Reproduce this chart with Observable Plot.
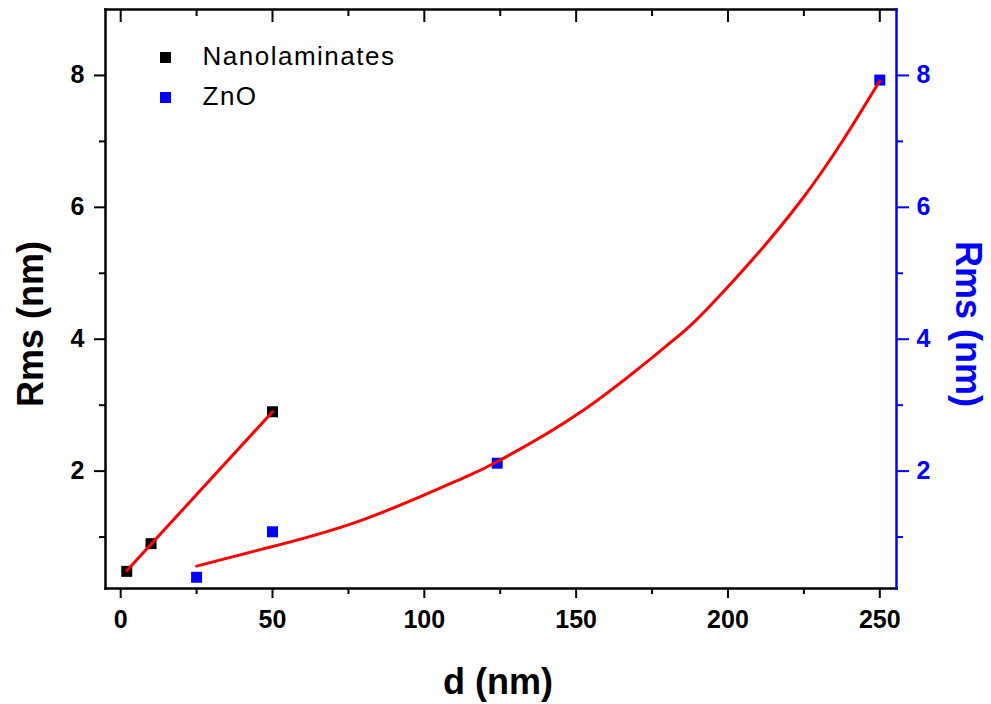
<!DOCTYPE html>
<html>
<head>
<meta charset="utf-8">
<script src="https://cdn.jsdelivr.net/npm/d3@7"></script>
<script src="https://cdn.jsdelivr.net/npm/@observablehq/plot@0.6"></script>
<style>
  body { margin: 0; background: #fff; }
  svg { display: block; }
</style>
</head>
<body>
<div id="chart"></div>
<script>
// Data
const nanoD = [2, 10, 50];
const nanoRms = [0.48, 0.9, 2.9];
const znoD = [25, 50, 124, 250];
const znoRms = [0.39, 1.08, 2.12, 7.93];
const nanoFitD = [2, 50];
const nanoFitRms = [0.49, 2.9];
const znoFitD = [25, 46, 79, 112, 123, 151, 180, 195, 224, 250];
const znoFitRms = [0.56, 0.81, 1.25, 1.88, 2.12, 2.88, 3.91, 4.55, 6.1, 7.92];

const xTicks = [0, 50, 100, 150, 200, 250];
const xMinor = [25, 75, 125, 175, 225];
const yTicks = [2, 4, 6, 8];
const yMinor = [1, 3, 5, 7];

const legendLabels = ["Nanolaminates", "ZnO"];
const seriesColors = ["#000000", "#0000ff"];
const fitColor = "#ff0000";
const xTitle = "d (nm)";
const yTitle = "Rms (nm)";

const nano = nanoD.map((d, i) => ({d, rms: nanoRms[i]}));
const zno = znoD.map((d, i) => ({d, rms: znoRms[i]}));
const nanoFit = nanoFitD.map((d, i) => ({d, rms: nanoFitRms[i]}));
const znoFit = znoFitD.map((d, i) => ({d, rms: znoFitRms[i]}));

const F = "'Liberation Sans', Arial, sans-serif";

const chart = Plot.plot({
  width: 991,
  height: 704,
  marginLeft: 105,
  marginRight: 95,
  marginTop: 9,
  marginBottom: 116,
  x: {domain: [-5, 255.5]},
  y: {domain: [0.22, 9.0]},
  style: {fontFamily: F, background: "white", color: "black"},
  marks: [
    // bottom axis
    Plot.axisX({ticks: xTicks, tickSize: 10, tickPadding: 12, fontSize: 25, fontWeight: "bold", strokeWidth: 2, label: null, tickFormat: d => d}),
    Plot.axisX({ticks: xMinor, tickSize: 6, strokeWidth: 2, text: null, label: null}),
    // top mirror ticks (inward)
    Plot.axisX({anchor: "top", ticks: xTicks, tickSize: 12, dy: 12, strokeWidth: 2, text: null, label: null}),
    Plot.axisX({anchor: "top", ticks: xMinor, tickSize: 6, dy: 6, strokeWidth: 2, text: null, label: null}),
    // left axis
    Plot.axisY({ticks: yTicks, tickSize: 11, tickPadding: 10, fontSize: 25, fontWeight: "bold", strokeWidth: 2, label: null, tickFormat: d => d}),
    Plot.axisY({ticks: yMinor, tickSize: 6, strokeWidth: 2, text: null, label: null}),
    // right axis (blue)
    Plot.axisY({anchor: "right", ticks: yTicks, tickSize: 12, tickPadding: 8, fontSize: 25, fontWeight: "bold", strokeWidth: 2, color: seriesColors[1], label: null, tickFormat: d => d}),
    Plot.axisY({anchor: "right", ticks: yMinor, tickSize: 6, strokeWidth: 2, color: seriesColors[1], text: null, label: null}),
    // frame
    Plot.frame({anchor: "left", stroke: "black", strokeWidth: 2.5}),
    Plot.frame({anchor: "top", stroke: "black", strokeWidth: 2.5}),
    Plot.frame({anchor: "bottom", stroke: "black", strokeWidth: 2.5}),
    Plot.frame({anchor: "right", stroke: seriesColors[1], strokeWidth: 2.5}),
    // data points
    Plot.dot(nano, {x: "d", y: "rms", symbol: "square", r: 6.2, fill: seriesColors[0]}),
    Plot.dot(zno, {x: "d", y: "rms", symbol: "square", r: 6.2, fill: seriesColors[1]}),
    // fits
    Plot.line(nanoFit, {x: "d", y: "rms", stroke: fitColor, strokeWidth: 3}),
    Plot.line(znoFit, {x: "d", y: "rms", stroke: fitColor, strokeWidth: 3, curve: "natural"}),
    // legend
    Plot.dot([legendLabels[0]], {frameAnchor: "top-left", dx: 60, dy: 48, symbol: "square", r: 6.2, fill: seriesColors[0]}),
    Plot.dot([legendLabels[1]], {frameAnchor: "top-left", dx: 60, dy: 88, symbol: "square", r: 6.2, fill: seriesColors[1]}),
    Plot.text([legendLabels[0]], {text: d => d, frameAnchor: "top-left", dx: 97, dy: 47, textAnchor: "start", lineAnchor: "middle", fontSize: 26, fill: "black"}),
    Plot.text([legendLabels[1]], {text: d => d, frameAnchor: "top-left", dx: 97, dy: 87, textAnchor: "start", lineAnchor: "middle", fontSize: 26, fill: "black"}),
    // titles
    Plot.text([yTitle], {text: d => d, frameAnchor: "left", textAnchor: "middle", lineAnchor: "middle", rotate: -90, dx: -74, dy: 25, fontSize: 36, fontWeight: "bold", fill: "black"}),
    Plot.text([yTitle], {text: d => d, frameAnchor: "right", textAnchor: "middle", lineAnchor: "middle", rotate: 90, dx: 71, dy: 25, fontSize: 36, fontWeight: "bold", fill: seriesColors[1]}),
    Plot.text([xTitle], {text: d => d, frameAnchor: "bottom", textAnchor: "middle", lineAnchor: "middle", dx: -3, dy: 94, fontSize: 36, fontWeight: "bold", fill: "black"})
  ]
});
d3.select(chart).selectAll("text")
  .filter(function() { return legendLabels.includes(this.textContent); })
  .attr("letter-spacing", 1.5);
document.getElementById("chart").appendChild(chart);
</script>
</body>
</html>
